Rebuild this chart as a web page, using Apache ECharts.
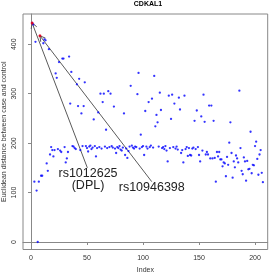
<!DOCTYPE html>
<html><head><meta charset="utf-8">
<script src="https://cdn.jsdelivr.net/npm/echarts@6/dist/echarts.min.js"></script>
<style>html,body{margin:0;padding:0;background:#fff}#c{width:273px;height:273px}</style>
</head><body><div id="c"></div>
<script>
const distances = [
443,440,122,405,104,0,122,417,134,134,
402,410,408,159,144,390,177,192,186,173,
186,341,332,188,364,185,182,371,371,192,
161,169,182,375,280,344,194,193,190,188,
319,275,330,186,260,194,275,323,194,190,
183,193,195,188,191,248,194,173,190,262,
192,300,189,283,300,193,227,190,305,192,
300,194,191,274,189,180,192,190,194,187,
185,191,260,176,189,170,184,193,316,195,
191,189,193,192,299,342,189,217,192,194,
176,265,193,189,283,192,195,290,191,336,
234,257,242,193,302,267,190,192,188,194,
185,163,296,190,249,298,192,280,189,193,
187,292,268,180,186,161,296,188,192,174,
190,176,175,189,191,245,188,266,192,176,
163,254,185,298,243,177,182,177,276,169,
276,169,245,170,122,182,173,182,167,167,
153,161,159,133,172,156,201,242,180,130,
163,151,175,169,161,306,190,144,137,171,
163,124,164,147,148,223,139,156,155,194,
203,168,136,177,186,140,121
];
const highlighted = [1, 8];
const xTicks = [0, 50, 100, 150, 200];
const yTicks = [0, 100, 200, 300, 400];
const arrowFromX = [50.3, 107.8];
const arrowFromY = [150, 122];
const arrowToIndex = [1, 8];
const labelText = ['rs1012625', '(DPL)', 'rs10946398'];
const labelX = [50.9, 50.9, 107.8];
const labelY = [137.7, 114, 110.8];
const titleText = 'CDKAL1';
const xName = 'Index';
const yName = 'Euclidean distance between case and control';

const chart = echarts.init(document.getElementById('c'), null, {renderer: 'canvas'});
const pts = distances.map((v, i) => [i + 1, v]);
const red = highlighted.map(i => [i, distances[i - 1]]);
const arrows = arrowFromX.map((x, k) => [x, arrowFromY[k], arrowToIndex[k], distances[arrowToIndex[k] - 1]]);
const labels = labelX.map((x, k) => [x, labelY[k]]);
const font = '"Liberation Sans", Arial, sans-serif';
const gray = '#888';

const option = {
  animation: false,
  graphic: [{
    type: 'text', x: 148, y: 4.5,
    style: {text: titleText, font: 'bold 7px "Liberation Sans", Arial, sans-serif', fill: '#000', align: 'center', verticalAlign: 'middle'}
  }, {
    type: 'text', x: 4, y: 131.75, rotation: Math.PI / 2,
    style: {text: yName, font: '7px "Liberation Sans", Arial, sans-serif', fill: '#333', align: 'center', verticalAlign: 'middle'}
  }],
  grid: {left: 23, top: 14, right: 5.3, bottom: 23.5, show: true, borderColor: gray, borderWidth: 1,
    backgroundColor: 'transparent', containLabel: false, outerBoundsMode: 'none'},
  xAxis: {
    type: 'value', min: -7.14, max: 211.3,
    axisLine: {show: true, lineStyle: {color: gray}},
    splitLine: {show: false},
    axisTick: {show: true, customValues: xTicks, length: 3, lineStyle: {color: gray}},
    axisLabel: {customValues: xTicks, margin: 5, fontSize: 7, color: '#333', fontFamily: font},
    name: xName, nameLocation: 'middle', nameGap: 17,
    nameTextStyle: {fontSize: 7, color: '#333', fontFamily: font}
  },
  yAxis: {
    type: 'value', min: -15.2, max: 461.2,
    axisLine: {show: true, lineStyle: {color: gray}},
    splitLine: {show: false},
    axisTick: {show: true, customValues: yTicks, length: 3, lineStyle: {color: gray}},
    axisLabel: {customValues: yTicks, margin: 5, fontSize: 7, color: '#333', fontFamily: font, rotate: 90}
  },
  series: [
    {type: 'scatter', data: pts, symbol: 'circle', symbolSize: 2.3, itemStyle: {color: '#0000ff'}, silent: true},
    {
      type: 'custom', data: arrows, silent: true, clip: false,
      renderItem: (params, api) => {
        const p0 = api.coord([api.value(0), api.value(1)]);
        const p1 = api.coord([api.value(2), api.value(3)]);
        const ang = Math.atan2(p1[1] - p0[1], p1[0] - p0[0]);
        const L = 6, a = Math.PI / 6;
        const w1 = [p1[0] - L * Math.cos(ang - a), p1[1] - L * Math.sin(ang - a)];
        const w2 = [p1[0] - L * Math.cos(ang + a), p1[1] - L * Math.sin(ang + a)];
        return {type: 'group', children: [
          {type: 'line', shape: {x1: p0[0], y1: p0[1], x2: p1[0], y2: p1[1]}, style: {stroke: '#5a5a5a', lineWidth: 1}},
          {type: 'polyline', shape: {points: [w1, p1, w2]}, style: {stroke: '#5a5a5a', lineWidth: 1, fill: null}}
        ]};
      }
    },
    {type: 'scatter', data: red, symbol: 'circle', symbolSize: 3, itemStyle: {color: '#ff0000'}, silent: true, z: 5},
    {
      type: 'custom', data: labels, silent: true, clip: false, z: 6,
      renderItem: (params, api) => {
        const p = api.coord([api.value(0), api.value(1)]);
        return {type: 'text', x: p[0], y: p[1], style: {
          text: labelText[params.dataIndex], fontSize: 12.5, fontFamily: font, fill: '#222',
          align: 'center', verticalAlign: 'middle'
        }};
      }
    }
  ]
};
chart.setOption(option);
</script>
</body></html>
